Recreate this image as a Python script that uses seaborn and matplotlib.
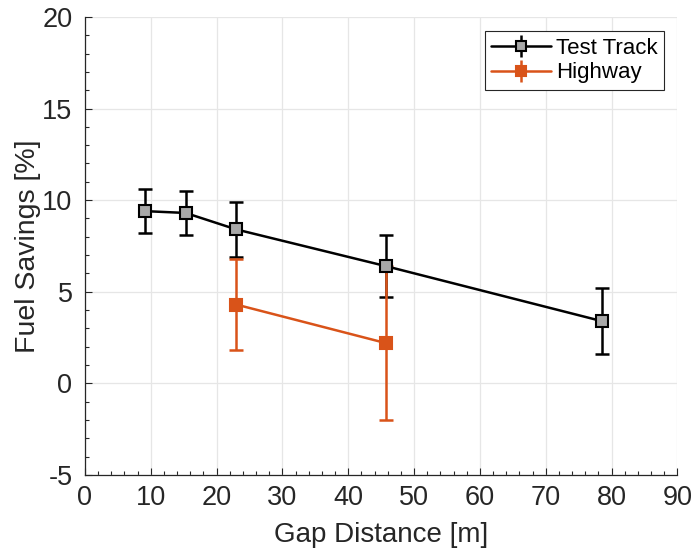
import matplotlib
matplotlib.use("Agg")
import matplotlib.pyplot as plt
from matplotlib.ticker import MultipleLocator
import seaborn as sns
import pandas as pd

# Test track measurements
track_gap = [9.1, 15.3, 23.0, 45.7, 78.5]
track_savings = [9.4, 9.3, 8.4, 6.4, 3.4]
track_err = [1.2, 1.2, 1.5, 1.7, 1.8]

# Highway measurements
highway_gap = [23.0, 45.7]
highway_savings = [4.3, 2.2]
highway_err = [2.5, 4.2]

sns.set_theme(style="whitegrid")
plt.rcParams["font.family"] = ["Liberation Sans", "DejaVu Sans"]
plt.rcParams["axes.unicode_minus"] = False

fig = plt.figure(figsize=(6.92, 5.48), dpi=100)
ax = fig.add_axes([0.1228, 0.1332, 0.856, 0.836])

track = pd.DataFrame({"gap": track_gap, "savings": track_savings, "err": track_err})
highway = pd.DataFrame({"gap": highway_gap, "savings": highway_savings, "err": highway_err})

black = "#000000"
orange = "#D95319"
text_col = "#262626"

ax.errorbar(track["gap"], track["savings"], yerr=track["err"], fmt="none",
            ecolor=black, elinewidth=1.8, capsize=5, capthick=1.8, zorder=3)
ax.errorbar(highway["gap"], highway["savings"], yerr=highway["err"], fmt="none",
            ecolor=orange, elinewidth=1.8, capsize=5, capthick=1.8, zorder=3)

sns.lineplot(data=track, x="gap", y="savings", ax=ax, color=black, linewidth=1.8,
             marker="s", markersize=8, markerfacecolor="#a8a8a8",
             markeredgecolor=black, markeredgewidth=1.5, zorder=4)
sns.lineplot(data=highway, x="gap", y="savings", ax=ax, color=orange, linewidth=1.8,
             marker="s", markersize=8, markerfacecolor=orange,
             markeredgecolor=orange, markeredgewidth=1.5, zorder=4)

# Legend handles combining line, marker and error bar
h1 = ax.errorbar([], [], yerr=[], color=black, linewidth=1.8, capsize=5, capthick=1.8,
                 marker="s", markersize=6.5, markerfacecolor="#a8a8a8",
                 markeredgecolor=black, markeredgewidth=1.5)
h2 = ax.errorbar([], [], yerr=[], color=orange, linewidth=1.8, capsize=5, capthick=1.8,
                 marker="s", markersize=6.5, markerfacecolor=orange,
                 markeredgecolor=orange, markeredgewidth=1.5)
leg = ax.legend([h1, h2], ["Test Track", "Highway"], loc="upper right",
                bbox_to_anchor=(0.985, 0.978), fontsize=16, frameon=True,
                fancybox=False, edgecolor=text_col, framealpha=1,
                handlelength=2.7, handletextpad=0.2, borderpad=0.3,
                labelspacing=0.15, borderaxespad=0.2)
leg.get_frame().set_linewidth(0.8)
for t in leg.get_texts():
    t.set_color("black")

ax.set_xlim(0, 90)
ax.set_ylim(-5, 20)
ax.xaxis.set_major_locator(MultipleLocator(10))
ax.xaxis.set_minor_locator(MultipleLocator(2))
ax.yaxis.set_major_locator(MultipleLocator(5))
ax.yaxis.set_minor_locator(MultipleLocator(1))

ax.grid(True, which="major", color="#e6e6e6", linewidth=0.9)
ax.grid(False, which="minor")
ax.set_facecolor("white")
for side in ("top", "right"):
    ax.spines[side].set_visible(False)
for side in ("left", "bottom"):
    ax.spines[side].set_color(text_col)
    ax.spines[side].set_linewidth(0.9)

ax.tick_params(which="both", direction="in", color=text_col, width=0.8,
               left=True, bottom=True, labelsize=19.5, labelcolor=text_col)
ax.tick_params(which="major", length=5)
ax.tick_params(which="minor", length=2.8)
ax.tick_params(axis="x", which="major", pad=7)
ax.tick_params(axis="y", which="major", pad=9)

ax.set_xlabel("Gap Distance [m]", fontsize=20, color=text_col, labelpad=8)
ax.set_ylabel("Fuel Savings [%]", fontsize=20.5, color=text_col, labelpad=1)

fig.savefig("out.png", dpi=100, facecolor="white")
